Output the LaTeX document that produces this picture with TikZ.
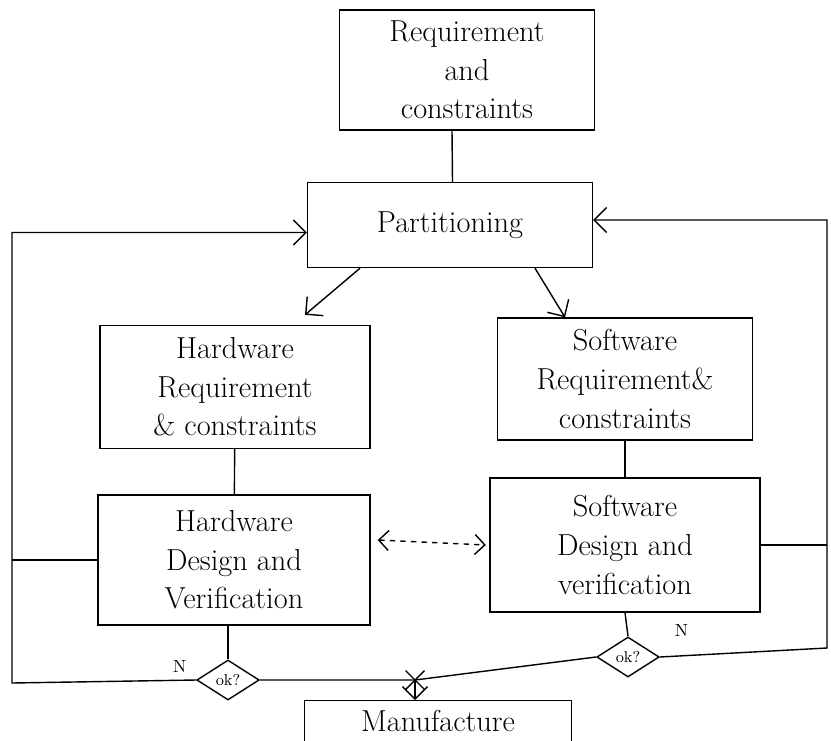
\documentclass[tikz,border=0pt]{standalone}
\usetikzlibrary{arrows.meta,positioning,shapes.geometric,shapes.misc}

\begin{document}
\begin{tikzpicture}[
    x=0.02cm, y=-0.02cm,
    stage/.style={
        rectangle,
        draw,
        thick,
        minimum width=5.4cm,
        minimum height=2.5cm,
        align=center,
        font=\LARGE
    },
    check/.style={
        diamond,
        draw,
        thick,
        minimum width=1.25cm,
        minimum height=0.8cm,
        inner sep=0pt,
        font=\small
    },
    flow/.style={
        -{Straight Barb[length=2.5mm]},
        thick
    },
    wire/.style={
        thick
    }
]
\clip (0,0) rectangle (831,740);

% Nodes
\node[stage, minimum width=5.1cm, minimum height=2.4cm] (req) at (467,70) {Requirement\\and\\constraints};
\node[stage, minimum width=5.7cm, minimum height=1.7cm] (part) at (450,225) {Partitioning};
\node[stage, minimum height=2.46cm] (hwreq) at (235,387) {Hardware\\Requirement\\\& constraints};
\node[stage, minimum width=5.1cm, minimum height=2.44cm] (swreq) at (625,379) {Software\\Requirement\&\\constraints};
\node[stage, minimum width=5.44cm, minimum height=2.6cm] (hwdes) at (234,560) {Hardware\\Design and\\Verification};
\node[stage, minimum height=2.68cm] (swdes) at (625,545) {Software\\Design and\\verification};
\node[check] (okhw) at (228,680) {ok?};
\node[check] (oksw) at (628,657) {ok?};
\node[draw, thick, cross out, minimum size=0.35cm, inner sep=0pt] (join) at (415,680) {};
\node[stage, minimum width=5.34cm, minimum height=1.7cm, anchor=north, text depth=0.9cm] (manu) at (438,700) {Manufacture};

\coordinate (lft) at (12,683);
\coordinate (rgt) at (827,648);

% Flow
\draw[wire] ([xshift=-0.3cm]req.south) -- ([xshift=0.05cm]part.north);
\draw[flow] ([xshift=-1.8cm]part.south) -- ([xshift=1.4cm,yshift=0.2cm]hwreq.north);
\draw[flow] ([xshift=1.7cm]part.south) -- ([xshift=-1.2cm]swreq.north);
\draw[wire] (hwreq) -- (hwdes);
\draw[wire] (swreq) -- (swdes);
\draw[{Straight Barb[length=2mm]}-{Straight Barb[length=2mm]}, dashed, thick]
    ([xshift=4pt,yshift=0.4cm]hwdes.east) -- ([xshift=-2pt]swdes.west);
\draw[wire] (okhw.north |- hwdes.south) -- (okhw.north);
\draw[wire] (swdes.south) -- (oksw.north);
\draw[wire] (okhw.east) -- (join.center) -- (oksw.west);
\draw[flow] (join.center) -- (join.center |- manu.north);

% Feedback
\draw[flow] (okhw.west) -- (lft) |- ([yshift=-0.15cm]part.west);
\draw[wire] (hwdes.west) -- (hwdes.west -| lft);
\draw[flow] (oksw.east) -- (rgt) |- ([yshift=0.1cm]part.east);
\draw[wire] (swdes.east) -- (swdes.east -| rgt);

\node[above left=1pt and 2pt] at (okhw.west) {N};
\node[above right=2pt and 14pt] at (oksw.north east) {N};

\end{tikzpicture}
\end{document}
